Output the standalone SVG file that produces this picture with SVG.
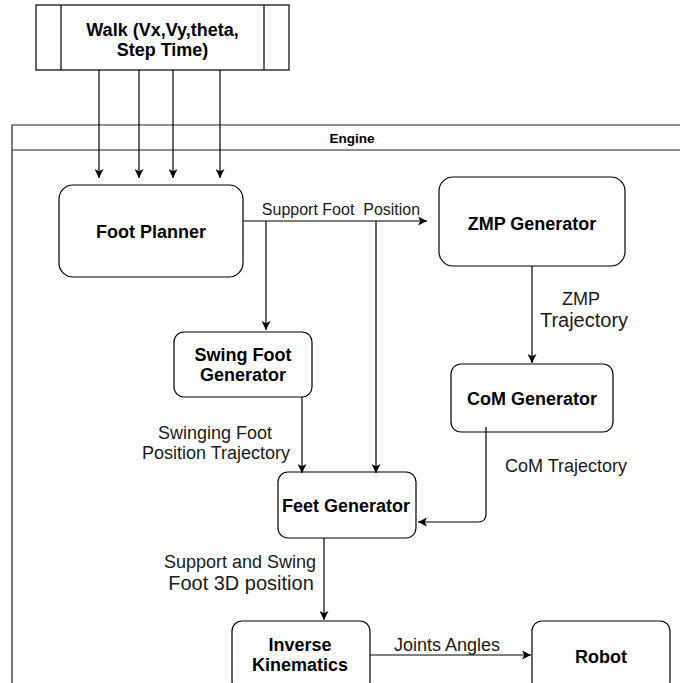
<svg xmlns="http://www.w3.org/2000/svg" width="680" height="683" viewBox="0 0 680 683">
<defs>
<marker id="arr" viewBox="0 0 10 10" refX="10" refY="5" markerWidth="9" markerHeight="9" markerUnits="userSpaceOnUse" orient="auto">
<path d="M0,0 L10,5 L0,10 L2.5,5 Z" fill="#000"/>
</marker>
</defs>
<style>
.box{fill:#fff;stroke:#000;stroke-width:1.2}
.ln{fill:none;stroke:#000;stroke-width:1.2}
.b{font-family:"Liberation Sans",Arial,sans-serif;font-weight:bold;font-size:18px;fill:#000;text-anchor:middle}
.t{font-family:"Liberation Sans",Arial,sans-serif;font-size:18px;fill:#1a1a1a;text-anchor:middle}
</style>
<rect width="680" height="683" fill="#fff"/>
<g id="engine">
<path d="M690,125 H12 V690" fill="none" stroke="#222" stroke-width="1.2"/>
<line x1="12" y1="150" x2="690" y2="150" stroke="#222" stroke-width="1.2"/>
<text x="352" y="143" class="b" style="font-size:13.5px">Engine</text>
</g>
<g id="walk">
<rect x="36" y="5" width="253" height="65" class="box"/>
<line x1="61" y1="5" x2="61" y2="70" class="ln"/>
<line x1="264" y1="5" x2="264" y2="70" class="ln"/>
<text x="162.5" y="35.5" class="b">Walk (Vx,Vy,theta,</text>
<text x="162.5" y="56" class="b">Step Time)</text>
</g>
<g id="foot-planner">
<rect x="59" y="185" width="184" height="92" rx="14" class="box"/>
<text x="151" y="237.5" class="b">Foot Planner</text>
</g>
<g id="zmp-generator">
<rect x="439" y="177" width="186" height="89" rx="14" class="box"/>
<text x="532" y="229.5" class="b">ZMP Generator</text>
</g>
<g id="swing-foot-generator">
<rect x="174" y="332" width="138" height="65" rx="10" class="box"/>
<text x="243" y="361" class="b">Swing Foot</text>
<text x="243" y="381" class="b">Generator</text>
</g>
<g id="com-generator">
<rect x="451" y="364" width="162" height="68" rx="10" class="box"/>
<text x="532" y="405" class="b">CoM Generator</text>
</g>
<g id="feet-generator">
<rect x="278" y="472" width="138" height="66" rx="10" class="box"/>
<text x="346" y="512" class="b">Feet Generator</text>
</g>
<g id="inverse-kinematics">
<rect x="232" y="621" width="138" height="70" rx="10" class="box"/>
<text x="300" y="651" class="b">Inverse</text>
<text x="300" y="671" class="b">Kinematics</text>
</g>
<g id="robot">
<rect x="532" y="621" width="138" height="70" rx="10" class="box"/>
<text x="601" y="663" class="b">Robot</text>
</g>
<g id="connectors">
<line x1="99" y1="70" x2="99" y2="178" class="ln" marker-end="url(#arr)"/>
<line x1="139" y1="70" x2="139" y2="178" class="ln" marker-end="url(#arr)"/>
<line x1="173" y1="70" x2="173" y2="178" class="ln" marker-end="url(#arr)"/>
<line x1="220" y1="70" x2="220" y2="178" class="ln" marker-end="url(#arr)"/>
<line x1="243" y1="221" x2="427" y2="221" class="ln" marker-end="url(#arr)"/>
<line x1="266" y1="221" x2="266" y2="330" class="ln" marker-end="url(#arr)"/>
<line x1="376" y1="221" x2="376" y2="473" class="ln" marker-end="url(#arr)"/>
<line x1="532" y1="266" x2="532" y2="363" class="ln" marker-end="url(#arr)"/>
<line x1="302" y1="397" x2="302" y2="473" class="ln" marker-end="url(#arr)"/>
<path d="M486,427 V514 Q486,522 478,522 H418" class="ln" marker-end="url(#arr)"/>
<line x1="324" y1="538" x2="324" y2="620" class="ln" marker-end="url(#arr)"/>
<line x1="370" y1="655" x2="531" y2="655" class="ln" marker-end="url(#arr)"/>
<text x="341" y="215" class="t" style="font-size:16px;white-space:pre" xml:space="preserve">Support Foot  Position</text>
<text x="581" y="305" class="t">ZMP</text>
<text x="584" y="327" class="t" style="font-size:20px">Trajectory</text>
<text x="566" y="472" class="t">CoM Trajectory</text>
<text x="215" y="439" class="t">Swinging Foot</text>
<text x="216" y="459" class="t">Position Trajectory</text>
<text x="240" y="568" class="t">Support and Swing</text>
<text x="241" y="590" class="t" style="font-size:20px">Foot 3D position</text>
<text x="447" y="651" class="t">Joints Angles</text>
</g>
</svg>
